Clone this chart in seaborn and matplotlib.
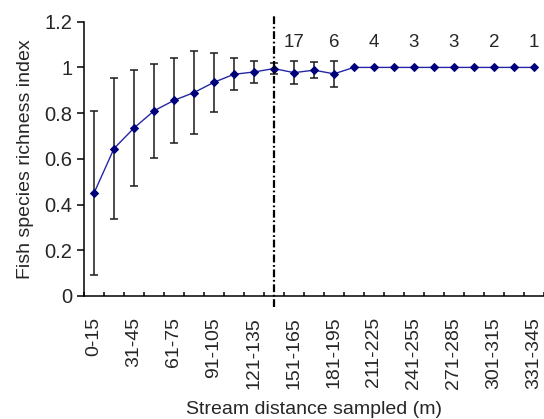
import numpy as np
import seaborn as sns
import matplotlib.pyplot as plt
from matplotlib.ticker import FixedLocator

# Stream distance classes (m)
DISTANCE_CLASSES = [
    "0-15", "16-30", "31-45", "46-60", "61-75", "76-90", "91-105", "106-120",
    "121-135", "136-150", "151-165", "166-180", "181-195", "196-210", "211-225",
    "226-240", "241-255", "256-270", "271-285", "286-300", "301-315", "316-330",
    "331-345",
]
RICHNESS_MEAN = [
    0.45, 0.645, 0.735, 0.81, 0.856, 0.89, 0.935, 0.97, 0.98, 0.995,
    0.977, 0.988, 0.972, 1.0, 1.0, 1.0, 1.0, 1.0, 1.0, 1.0, 1.0, 1.0, 1.0,
]
RICHNESS_SD = [
    0.36, 0.31, 0.255, 0.205, 0.187, 0.183, 0.13, 0.07, 0.05, 0.025,
    0.05, 0.036, 0.057, 0, 0, 0, 0, 0, 0, 0, 0, 0, 0,
]
# number of streams still contributing, written above selected classes
COUNT_POS = [10, 12, 14, 16, 18, 20, 22]
COUNT_TXT = ["17", "6", "4", "3", "3", "2", "1"]
CUTOFF_POS = 9

YTICKS = [0, 0.2, 0.4, 0.6, 0.8, 1.0, 1.2]
YTICK_LABELS = ["0", "0.2", "0.4", "0.6", "0.8", "1", "1.2"]

LINE_COLOR = "#2626a6"
MARKER_COLOR = "#00007a"


def main():
    sns.set_theme(style="ticks")
    plt.rcParams["font.family"] = ["Liberation Sans", "DejaVu Sans"]
    plt.rcParams["font.size"] = 14

    x = np.arange(len(DISTANCE_CLASSES))
    mean = np.array(RICHNESS_MEAN)
    sd = np.array(RICHNESS_SD)

    fig = plt.figure(figsize=(5.44, 4.19), dpi=100)
    ax = fig.add_axes([0.1544, 0.2936, 0.8456, 0.6546])

    has_err = sd > 0
    ax.errorbar(x[has_err], mean[has_err], yerr=sd[has_err], fmt="none",
                ecolor="#1a1a1a", elinewidth=1.1, capsize=3, capthick=1.1, zorder=2)
    sns.lineplot(x=x, y=mean, ax=ax, color=LINE_COLOR, linewidth=1.0,
                 marker="D", markersize=4.5, markerfacecolor=MARKER_COLOR,
                 markeredgecolor=MARKER_COLOR, zorder=3)

    ax.plot([CUTOFF_POS, CUTOFF_POS], [-0.05, 1.225], color="black", lw=1.6,
            dashes=[3.5, 1.2, 0.8, 1.2], clip_on=False, zorder=4)

    for pos, txt in zip(COUNT_POS, COUNT_TXT):
        ax.text(pos, 1.11, txt, ha="center", va="center", fontsize=13.5)

    ax.set_xlim(-0.5, len(DISTANCE_CLASSES) - 0.5)
    ax.set_ylim(0, 1.2)
    ax.set_yticks(YTICKS)
    ax.set_yticklabels(YTICK_LABELS, fontsize=14.5)

    ax.set_xticks(x[::2])
    ax.set_xticklabels(DISTANCE_CLASSES[::2], rotation=90, fontsize=14)
    ax.xaxis.set_minor_locator(FixedLocator(np.arange(len(DISTANCE_CLASSES) + 1) - 0.5))
    ax.tick_params(axis="x", which="major", length=0, pad=15)
    ax.tick_params(axis="x", which="minor", direction="in", length=3, width=1.1, color="black")
    ax.tick_params(axis="y", direction="out", length=5, width=1.1, color="black", pad=3.5)

    ax.set_xlabel("Stream distance sampled (m)", fontsize=14, labelpad=9)
    ax.set_ylabel("Fish species richness index", fontsize=14, labelpad=7)

    for side in ("top", "right"):
        ax.spines[side].set_visible(False)
    for side in ("left", "bottom"):
        ax.spines[side].set_color("black")
        ax.spines[side].set_linewidth(1.1)
    ax.grid(False)

    fig.savefig("out.png", dpi=100)


if __name__ == "__main__":
    main()
